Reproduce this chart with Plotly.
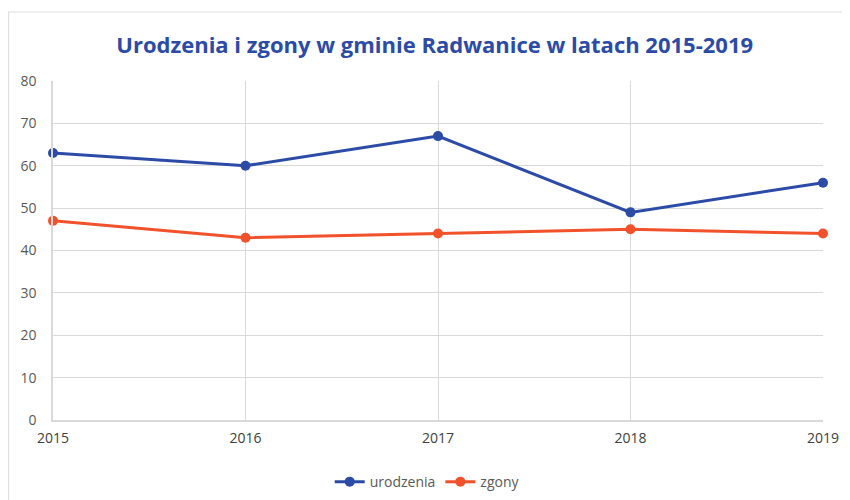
import plotly.graph_objects as go

years = [2015, 2016, 2017, 2018, 2019]
urodzenia = [63, 60, 67, 49, 56]
zgony = [47, 43, 44, 45, 44]
y_ticks = [0, 10, 20, 30, 40, 50, 60, 70, 80]
title_text = "Urodzenia i zgony w gminie Radwanice w latach 2015-2019"

BLUE = "#2B4BA6"
ORANGE = "#F2522B"
GRID = "#D9D9D9"
TXT = "#595959"

fig = go.Figure()
fig.add_trace(go.Scatter(x=years, y=urodzenia, name="urodzenia", mode="lines+markers",
                         line=dict(color=BLUE, width=3), marker=dict(size=10, color=BLUE),
                         cliponaxis=False))
fig.add_trace(go.Scatter(x=years, y=zgony, name="zgony", mode="lines+markers",
                         line=dict(color=ORANGE, width=3), marker=dict(size=10, color=ORANGE),
                         cliponaxis=False))

fig.update_layout(
    width=850, height=500,
    paper_bgcolor="white", plot_bgcolor="white",
    margin=dict(l=45, r=35, t=73, b=88, autoexpand=False),
    title=dict(text="<b>" + title_text + "</b>", x=0.502, xanchor="center", y=0.926, yanchor="middle",
               font=dict(family="Open Sans", size=22, color=BLUE)),
    font=dict(family="Open Sans", size=14, color=TXT),
    showlegend=True,
    legend=dict(orientation="h", x=0.486, xanchor="center", y=-0.183, yanchor="middle",
                font=dict(size=14, color=TXT), itemwidth=30, tracegroupgap=10),
    xaxis=dict(range=[2015, 2019], tickvals=years, ticktext=[str(y) for y in years],
               showgrid=True, gridcolor=GRID, gridwidth=1.2, showline=True, linecolor=GRID,
               linewidth=1.5, zeroline=False, ticks="", ticklabelstandoff=4,
               tickfont=dict(size=14, color="#404040")),
    yaxis=dict(range=[0, 80], tickvals=y_ticks, showgrid=True, gridcolor=GRID, gridwidth=1.2,
               showline=True, linecolor=GRID, linewidth=1.5, zeroline=False, ticks="",
               ticklabelstandoff=12, tickfont=dict(size=14, color=TXT)),
    shapes=[dict(type="rect", xref="paper", yref="paper", x0=-0.0578, x1=1.1, y0=-0.4, y1=1.2035,
                 line=dict(color="#E0E0E0", width=1.2), fillcolor="rgba(0,0,0,0)", layer="below")],
)

fig.write_html("out.html")
